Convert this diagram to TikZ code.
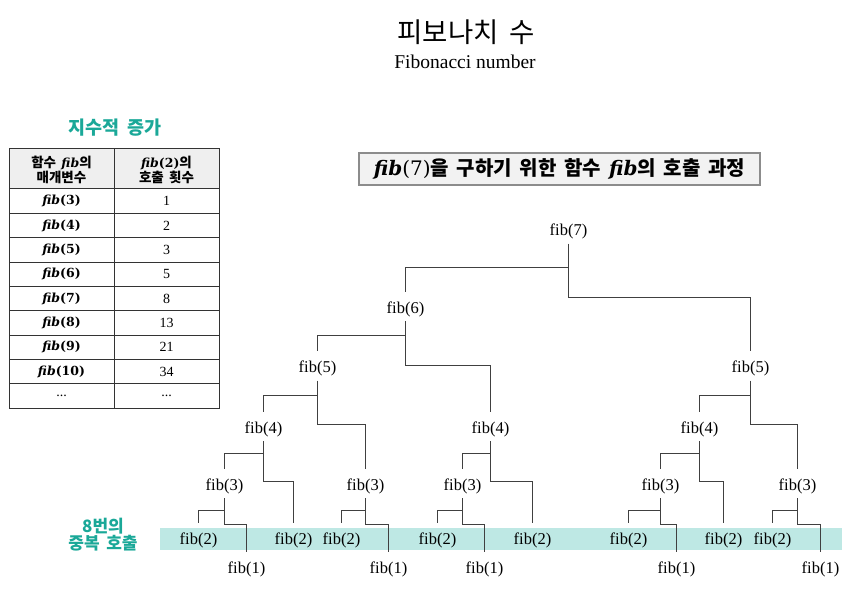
\documentclass[tikz,border=0pt]{standalone}
\usepackage{fontspec}
\setmainfont{Liberation Serif}
\newfontfamily\kr[WordSpace=1.7]{Noto Sans CJK KR}
\newfontfamily\mathlike{DejaVu Serif}
\definecolor{fibteal}{HTML}{1AA898}
\definecolor{dupband}{HTML}{BEE8E4}
\definecolor{headgray}{HTML}{EFEFEF}
\definecolor{boxgray}{HTML}{F2F2F2}
\newcommand{\fibit}{{\mathlike\bfseries\itshape fib}}
\tikzset{
  call/.style={draw=black!75, line width=1.25pt},
  fibnode/.style={inner sep=0pt, inner ysep=7pt, text height=14pt, text depth=1pt, font=\fontsize{16.5}{18}\selectfont},
  grid/.style={draw=black!80, line width=1pt},
  headcell/.style={align=center, font=\kr\bfseries\fontsize{13.5}{15}\selectfont},
  argcell/.style={font=\mathlike\bfseries\fontsize{12.5}{15}\selectfont},
  cntcell/.style={font=\fontsize{14}{16}\selectfont},
  goalbox/.style={draw=black!45, fill=boxgray, line width=1.2pt, minimum width=401pt, minimum height=32pt, inner sep=0pt, font=\fontsize{20}{22}\selectfont},
  teallabel/.style={text=fibteal, align=center}
}
\begin{document}
\begin{tikzpicture}[x=1pt, y=-1pt]
\useasboundingbox (0,0) rectangle (868,591);

% title
\node (title) at (466,32) {\kr\fontsize{27.5}{30}\selectfont 피보나치 수};
\node (subtitle) at (465,62) {\fontsize{19.5}{22}\selectfont Fibonacci number};

% table
\node[teallabel, font=\kr\bfseries\fontsize{18.5}{22}\selectfont] (growth) at (115,128) {지수적 증가};
\fill[headgray] (9,149) rectangle (219,189);
\draw[grid] (9,149) rectangle (219,408.15);
\draw[grid] (114,149) -- (114,408.15);
\foreach \k in {0,...,8}
  \draw[grid] (9,{189+24.35*\k}) -- (219,{189+24.35*\k});
\node[headcell] (head1) at (61.5,170) {함수 {\fontsize{12.5}{15}\selectfont\fibit}의\\매개변수};
\node[headcell] (head2) at (166.5,170) {{\fontsize{12.5}{15}\selectfont\fibit{\mathlike\bfseries (2)}}의\\호출 횟수};
\foreach \a/\c [count=\i] in {3/1,4/2,5/3,6/5,7/8,8/13,9/21,10/34} {
  \node[argcell] (arg\i) at (61.5,{189+24.35*(\i-0.5)}) {\fibit(\a)};
  \node[cntcell] (cnt\i) at (166.5,{189+24.35*(\i-0.5)}) {\c};
}
\node[cntcell] (arg9) at (61.5,396) {...};
\node[cntcell] (cnt9) at (166.5,396) {...};

% duplicated calls
\fill[dupband] (160,528) rectangle (842,549.5);
\node[teallabel, font=\kr\bfseries\fontsize{17}{15}\selectfont] (dup) at (103,535) {8번의\\중복 호출};

\node[goalbox] (goal) at (559.5,169) {\fibit{\mathlike(7)}{\kr\bfseries 을 구하기 위한 함수 }\fibit{\kr\bfseries 의 호출 과정}};

% call tree
\node[fibnode] (f7) at (568.5,229) {fib(7)};
\node[fibnode] (f6) at (405.5,306.5) {fib(6)};
\node[fibnode] (f5a) at (317.5,366) {fib(5)};
\node[fibnode] (f5b) at (750.5,366) {fib(5)};
\node[fibnode] (f4a) at (263.5,426.5) {fib(4)};
\node[fibnode] (f4b) at (490.5,426.5) {fib(4)};
\node[fibnode] (f4c) at (699.5,426.5) {fib(4)};
\node[fibnode] (f3a) at (224.5,483.5) {fib(3)};
\node[fibnode] (f3b) at (365.5,483.5) {fib(3)};
\node[fibnode] (f3c) at (462.5,483.5) {fib(3)};
\node[fibnode] (f3d) at (660.5,483.5) {fib(3)};
\node[fibnode] (f3e) at (797.5,483.5) {fib(3)};
\node[fibnode] (f2a) at (198.5,537.7) {fib(2)};
\node[fibnode] (f2b) at (293.5,537.7) {fib(2)};
\node[fibnode] (f2c) at (341.5,537.7) {fib(2)};
\node[fibnode] (f2d) at (437.5,537.7) {fib(2)};
\node[fibnode] (f2e) at (532.5,537.7) {fib(2)};
\node[fibnode] (f2f) at (628.5,537.7) {fib(2)};
\node[fibnode] (f2g) at (723.5,537.7) {fib(2)};
\node[fibnode] (f2h) at (772.5,537.7) {fib(2)};
\node[fibnode] (f1a) at (246.5,566.7) {fib(1)};
\node[fibnode] (f1b) at (388.5,566.7) {fib(1)};
\node[fibnode] (f1c) at (484.5,566.7) {fib(1)};
\node[fibnode] (f1d) at (676.5,566.7) {fib(1)};
\node[fibnode] (f1e) at (820.5,566.7) {fib(1)};

% parent/left child/left drop/right child/right drop
\foreach \p/\l/\dl/\r/\dr in {f7/f6/24/f5b/54, f6/f5a/14.5/f4b/44,
    f5a/f4a/15/f3b/44, f5b/f4c/15/f3e/44,
    f4a/f3a/12/f2b/40, f4b/f3c/12/f2e/40, f4c/f3d/12/f2g/40,
    f3a/f2a/12/f1a/26.5, f3b/f2c/12/f1b/26.5, f3c/f2d/12/f1c/26.5,
    f3d/f2f/12/f1d/26.5, f3e/f2h/12/f1e/26.5} {
  \draw[call] (\p.south) -- ++(0,\dr) -| (\r.north);
  \draw[call] (\p.south) ++(0,\dl) -| (\l.north);
}
\end{tikzpicture}
\end{document}
